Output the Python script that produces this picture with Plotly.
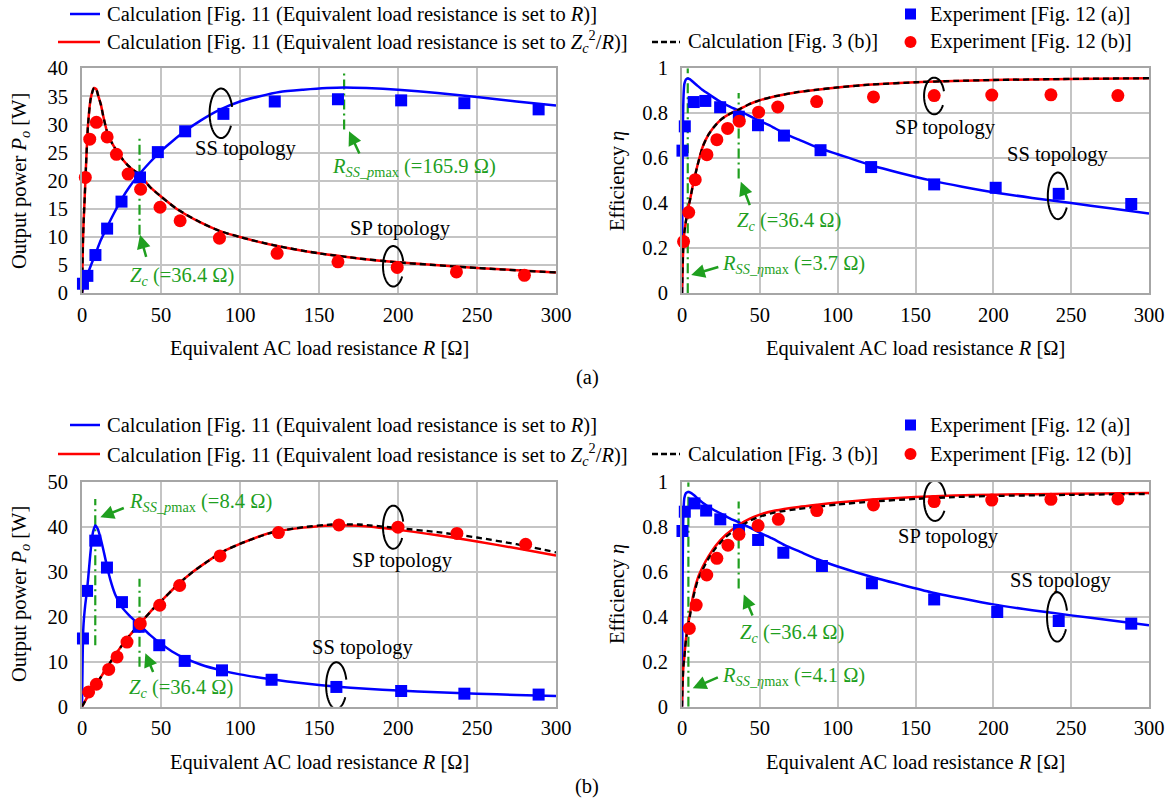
import numpy as np
import plotly.graph_objects as go

FONT = "Liberation Serif, Times New Roman, serif"
FS = 20.5
GREEN = "#1f9f1f"
BLUE = "#0000ff"
RED = "#ff0000"

# ================= DATA =================
# ---- (a) output power ----
pa_ss_calc_R = [0, 1, 2, 3.4, 5, 8.5, 12, 15.9, 20, 25, 30, 36.4, 43, 50, 57, 65, 75, 87, 100, 112, 125, 140, 155, 166, 180, 200, 225, 250, 275, 300]
pa_ss_calc_P = [0, 1.2, 2.2, 3.3, 4.5, 7.0, 9.5, 11.8, 14.1, 16.7, 18.9, 21.2, 23.3, 25.3, 27.0, 28.8, 30.7, 32.6, 34.1, 35.0, 35.8, 36.2, 36.5, 36.6, 36.5, 36.2, 35.6, 34.9, 34.1, 33.4]
pa_sp_calc_R = [0, 0.3, 0.6, 1, 1.7, 2.7, 3.8, 5.5, 7.6, 9, 10.2, 12, 13.3, 16.5, 20, 22.9, 26, 29.2, 32, 36.4, 43, 50, 60, 75, 87, 100, 122, 150, 175, 200, 250, 300]
pa_sp_calc_P = [0, 4.5, 9, 12.5, 17, 23.8, 29.9, 34.6, 36.5, 36.3, 35.2, 33.5, 31.7, 28.1, 26.2, 24.9, 23.7, 22.7, 22.0, 21.1, 18.9, 17.2, 15.0, 12.6, 11.1, 10.0, 8.5, 7.1, 6.2, 5.5, 4.5, 3.7]
pa_fig3_R = pa_sp_calc_R
pa_fig3_P = pa_sp_calc_P
pa_exp_ss_R = [0.6, 3.4, 8.5, 15.9, 25, 36.7, 48, 65.3, 89.5, 122, 162, 202, 242, 289]
pa_exp_ss_P = [1.7, 3.1, 6.8, 11.5, 16.3, 20.6, 25.1, 28.8, 31.9, 34.1, 34.5, 34.3, 33.8, 32.7]
pa_exp_sp_R = [2.1, 4.9, 9.1, 15.9, 21.8, 29.2, 37.1, 49.4, 62.1, 87, 123.5, 162, 199.5, 237, 280]
pa_exp_sp_P = [20.6, 27.4, 30.4, 27.8, 24.7, 21.2, 18.5, 15.3, 12.9, 9.8, 7.1, 5.6, 4.6, 3.8, 3.2]

# ---- (a) efficiency ----
ea_ss_calc_R = [0, 0.3, 0.6, 1, 1.5, 2.5, 3.7, 5, 7, 10, 13.5, 20, 25, 30, 36.4, 43, 50, 58, 66, 76, 87, 100, 122, 140, 160, 180, 200, 225, 250, 275, 300]
ea_ss_calc_E = [0, 0.45, 0.75, 0.88, 0.93, 0.95, 0.955, 0.952, 0.94, 0.922, 0.902, 0.872, 0.85, 0.832, 0.812, 0.79, 0.766, 0.74, 0.71, 0.68, 0.648, 0.618, 0.568, 0.535, 0.502, 0.474, 0.449, 0.424, 0.401, 0.378, 0.355]
ea_sp_calc_R = [0, 0.3, 0.9, 1.5, 2.5, 3.7, 5, 7, 10, 13.5, 17, 20, 25, 30, 36.4, 43, 50, 60, 75, 87, 100, 122, 150, 175, 200, 250, 300]
ea_sp_calc_E = [0, 0.09, 0.22, 0.27, 0.32, 0.37, 0.41, 0.48, 0.57, 0.655, 0.705, 0.735, 0.772, 0.795, 0.816, 0.84, 0.858, 0.876, 0.895, 0.905, 0.915, 0.928, 0.938, 0.944, 0.948, 0.953, 0.956]
ea_fig3_R = ea_sp_calc_R
ea_fig3_E = ea_sp_calc_E
ea_exp_ss_R = [0.3, 1.8, 7.5, 15, 24.5, 36.5, 48.8, 65.5, 89, 121.5, 162, 201.5, 242, 288.6]
ea_exp_ss_E = [0.634, 0.742, 0.85, 0.855, 0.827, 0.785, 0.747, 0.701, 0.636, 0.561, 0.484, 0.469, 0.442, 0.397]
ea_exp_sp_R = [1.0, 4.3, 8.5, 16, 22.4, 29.3, 36.8, 49.2, 61.5, 86.5, 123, 162, 199, 237, 280]
ea_exp_sp_E = [0.23, 0.36, 0.505, 0.616, 0.683, 0.733, 0.765, 0.805, 0.828, 0.852, 0.873, 0.879, 0.881, 0.882, 0.879]

# ---- (b) output power ----
pb_ss_calc_R = [0, 0.3, 0.6, 1, 2, 3.2, 4, 5, 6, 7, 8.4, 10, 12, 14, 16, 18, 21, 25, 30, 36.4, 43, 50, 57, 65, 75, 88, 100, 120, 140, 160, 180, 200, 225, 250, 275, 300]
pb_ss_calc_P = [0, 8, 15, 18.5, 22.5, 26, 29, 33, 36.5, 39, 40.4, 39.6, 37.2, 34.2, 31, 28.2, 25, 22.3, 20.3, 18.2, 16, 14, 12.3, 10.8, 9.4, 8.1, 7.2, 6.1, 5.2, 4.5, 4.0, 3.6, 3.2, 2.9, 2.6, 2.4]
pb_sp_calc_R = [0, 4, 9, 15, 20, 25, 30, 36.4, 45, 50, 60, 70, 80, 90, 100, 120, 140, 158, 175, 200, 225, 250, 275, 300]
pb_sp_calc_P = [0, 2.5, 5.0, 8.3, 11, 13.5, 15.8, 18.4, 21.8, 23.5, 27, 30, 32.5, 34.7, 36.3, 38.8, 39.9, 40.4, 40.3, 39.4, 38.2, 36.8, 35.3, 33.7]
pb_fig3_R = [0, 4, 9, 15, 20, 25, 30, 36.4, 45, 50, 60, 70, 80, 90, 100, 120, 140, 158, 175, 200, 225, 250, 275, 300]
pb_fig3_P = [0, 2.5, 5.0, 8.3, 11, 13.5, 15.8, 18.4, 21.8, 23.5, 27, 30, 32.5, 34.7, 36.3, 38.8, 40.0, 40.6, 40.6, 39.8, 38.9, 37.7, 36.2, 34.4]
pb_exp_ss_R = [0.6, 3.2, 8.4, 15.8, 25.3, 35.9, 48.9, 65, 88.6, 120, 161, 202, 242, 289]
pb_exp_ss_P = [15.2, 25.8, 37, 31, 23.3, 17.8, 13.7, 10.2, 8.1, 6.0, 4.4, 3.5, 2.9, 2.7]
pb_exp_sp_R = [4.2, 9.1, 16.9, 22.2, 28.5, 36.9, 49.2, 61.8, 87.4, 124.3, 162.6, 200, 237.3, 280.8]
pb_exp_sp_P = [3.3, 5.0, 8.3, 11.1, 14.4, 18.5, 22.6, 27, 33.6, 38.8, 40.5, 40, 38.6, 36.2]

# ---- (b) efficiency ----
eb_ss_calc_R = [0, 0.3, 0.6, 1, 1.5, 2.5, 4.1, 6, 8, 10, 13.5, 20, 25, 30, 36.4, 43, 50, 58, 66, 76, 87, 100, 122, 140, 160, 180, 200, 225, 250, 275, 300]
eb_ss_calc_E = [0, 0.45, 0.75, 0.88, 0.93, 0.952, 0.957, 0.952, 0.941, 0.928, 0.908, 0.879, 0.86, 0.842, 0.822, 0.8, 0.775, 0.75, 0.72, 0.69, 0.657, 0.625, 0.578, 0.545, 0.51, 0.482, 0.456, 0.43, 0.407, 0.385, 0.363]
eb_sp_calc_R = [0, 0.3, 0.9, 1.5, 2.5, 3.7, 5, 7, 10, 13.4, 17, 22, 28, 36.4, 43, 50, 60, 75, 87, 100, 122, 150, 175, 200, 250, 300]
eb_sp_calc_E = [0, 0.09, 0.18, 0.223, 0.3, 0.357, 0.41, 0.49, 0.57, 0.624, 0.67, 0.72, 0.765, 0.81, 0.836, 0.856, 0.874, 0.89, 0.9, 0.91, 0.923, 0.934, 0.941, 0.945, 0.949, 0.952]
eb_fig3_R = eb_sp_calc_R
eb_fig3_E = [0, 0.09, 0.18, 0.22, 0.295, 0.35, 0.4, 0.48, 0.56, 0.612, 0.66, 0.71, 0.755, 0.8, 0.827, 0.847, 0.866, 0.881, 0.891, 0.901, 0.914, 0.926, 0.934, 0.939, 0.944, 0.948]
eb_exp_ss_R = [0.3, 1.8, 8, 15.5, 24.6, 36.6, 48.9, 65.1, 89.9, 122, 162, 202.5, 242, 288.6]
eb_exp_ss_E = [0.783, 0.869, 0.906, 0.874, 0.835, 0.788, 0.743, 0.686, 0.627, 0.55, 0.478, 0.422, 0.382, 0.37]
eb_exp_sp_R = [4.7, 9.1, 15.9, 22.4, 29.5, 36.6, 48.9, 61.9, 86.6, 123, 162, 199, 237, 280]
eb_exp_sp_E = [0.349, 0.453, 0.587, 0.661, 0.72, 0.768, 0.807, 0.835, 0.874, 0.899, 0.914, 0.921, 0.924, 0.926]

x_ticks = [0, 50, 100, 150, 200, 250, 300]
legend_labels = [
    "Calculation [Fig. 11 (Equivalent load resistance is set to <i>R</i>)]",
    "Calculation [Fig. 11 (Equivalent load resistance is set to <i>Z<sub>c</sub></i><sup>2</sup>/<i>R</i>)]",
    "Calculation [Fig. 3 (b)]",
    "Experiment [Fig. 12 (a)]",
    "Experiment [Fig. 12 (b)]",
]

# ================= LAYOUT GEOMETRY =================
W, H = 1173, 802
def PX(px):
    return px / W
def PY(py):
    return 1 - py / H

LEFT = [PX(82), PX(556)]
RIGHT = [PX(682), PX(1149)]
TOP = [PY(293.3), PY(68.3)]
BOT = [PY(706.7), PY(482.3)]

fig = go.Figure()

panels = [
    ("x", "y", pa_ss_calc_R, pa_ss_calc_P, pa_sp_calc_R, pa_sp_calc_P, pa_fig3_R, pa_fig3_P,
     pa_exp_ss_R, pa_exp_ss_P, pa_exp_sp_R, pa_exp_sp_P),
    ("x2", "y2", ea_ss_calc_R, ea_ss_calc_E, ea_sp_calc_R, ea_sp_calc_E, ea_fig3_R, ea_fig3_E,
     ea_exp_ss_R, ea_exp_ss_E, ea_exp_sp_R, ea_exp_sp_E),
    ("x3", "y3", pb_ss_calc_R, pb_ss_calc_P, pb_sp_calc_R, pb_sp_calc_P, pb_fig3_R, pb_fig3_P,
     pb_exp_ss_R, pb_exp_ss_P, pb_exp_sp_R, pb_exp_sp_P),
    ("x4", "y4", eb_ss_calc_R, eb_ss_calc_E, eb_sp_calc_R, eb_sp_calc_E, eb_fig3_R, eb_fig3_E,
     eb_exp_ss_R, eb_exp_ss_E, eb_exp_sp_R, eb_exp_sp_E),
]

# green vertical reference lines: (axis, R, y0, y1)
green_vlines = [
    ("x", "y", 165.9, 29.1, 39.7), ("x", "y", 36.4, 10.4, 27.5),
    ("x2", "y2", 3.7, 0.0, 1.0), ("x2", "y2", 36.4, 0.51, 0.89),
    ("x3", "y3", 8.4, 13.7, 46.3), ("x3", "y3", 36.4, 8.9, 28.5),
    ("x4", "y4", 4.1, 0.0, 1.0), ("x4", "y4", 36.4, 0.527, 0.914),
]
for xa, ya, r, y0, y1 in green_vlines:
    fig.add_trace(go.Scatter(x=[r, r], y=[y0, y1], mode="lines", xaxis=xa, yaxis=ya,
                             line=dict(color=GREEN, width=2.2, dash="10px,4px,2px,4px"),
                             hoverinfo="skip", showlegend=False))

for (xa, ya, sR, sV, pR, pV, fR, fV, esR, esV, epR, epV) in panels:
    fig.add_trace(go.Scatter(x=sR, y=sV, mode="lines", xaxis=xa, yaxis=ya,
                             line=dict(color=BLUE, width=2.5, shape="spline", smoothing=0.6), showlegend=False))
    fig.add_trace(go.Scatter(x=pR, y=pV, mode="lines", xaxis=xa, yaxis=ya,
                             line=dict(color=RED, width=2.5, shape="spline", smoothing=0.6), showlegend=False))
    fig.add_trace(go.Scatter(x=fR, y=fV, mode="lines", xaxis=xa, yaxis=ya,
                             line=dict(color="black", width=2.3, dash="6px,4px", shape="spline", smoothing=0.6),
                             showlegend=False))
    fig.add_trace(go.Scatter(x=esR, y=esV, mode="markers", xaxis=xa, yaxis=ya, cliponaxis=False,
                             marker=dict(symbol="square", size=12, color=BLUE), showlegend=False))
    fig.add_trace(go.Scatter(x=epR, y=epV, mode="markers", xaxis=xa, yaxis=ya, cliponaxis=False,
                             marker=dict(symbol="circle", size=13, color=RED), showlegend=False))

axis_common = dict(showgrid=True, gridcolor="#c4c4c4", gridwidth=1.5, showline=True,
                   linecolor="#a6a6a6", linewidth=2, mirror=True, zeroline=False, ticks="",
                   automargin=False,
                   tickfont=dict(size=FS, family=FONT, color="black"))
xcommon = dict(axis_common, range=[0, 300], tickmode="array", tickvals=x_ticks, ticklabelstandoff=2)
fig.update_layout(
    xaxis=dict(xcommon, domain=LEFT, anchor="y"),
    yaxis=dict(axis_common, domain=TOP, anchor="x", range=[0, 40], dtick=5, ticklabelstandoff=8),
    xaxis2=dict(xcommon, domain=RIGHT, anchor="y2"),
    yaxis2=dict(axis_common, domain=TOP, anchor="x2", range=[0, 1], dtick=0.2, ticklabelstandoff=8),
    xaxis3=dict(xcommon, domain=LEFT, anchor="y3"),
    yaxis3=dict(axis_common, domain=BOT, anchor="x3", range=[0, 50], dtick=10, ticklabelstandoff=8),
    xaxis4=dict(xcommon, domain=RIGHT, anchor="y4"),
    yaxis4=dict(axis_common, domain=BOT, anchor="x4", range=[0, 1], dtick=0.2, ticklabelstandoff=8),
)

annotations = []
shapes = []

def text_paper(px, py, text, xanchor="center", angle=0):
    annotations.append(dict(x=PX(px), y=PY(py), xref="paper", yref="paper", text=text,
                            showarrow=False, xanchor=xanchor, yanchor="middle", textangle=angle,
                            borderpad=0, font=dict(family=FONT, size=FS, color="black")))

# axis titles
xtitle = "Equivalent AC load resistance <i>R</i> [Ω]"
text_paper(319, 348, xtitle)
text_paper(915.5, 348, xtitle)
text_paper(319, 762, xtitle)
text_paper(915.5, 762, xtitle)
text_paper(20, 181, "Output power <i>P<sub>o</sub></i> [W]", angle=-90)
text_paper(20, 594, "Output power <i>P<sub>o</sub></i> [W]", angle=-90)
text_paper(617, 181, "Efficiency <i>η</i>", angle=-90)
text_paper(617, 594, "Efficiency <i>η</i>", angle=-90)
text_paper(587, 377, "(a)")
text_paper(587, 786, "(b)")

# manual legends
for (r1, r2) in [(14, 42), (425, 454)]:
    shapes.append(dict(type="line", xref="paper", yref="paper", x0=PX(70), x1=PX(100), y0=PY(r1), y1=PY(r1),
                       line=dict(color=BLUE, width=2.5)))
    text_paper(106, r1, legend_labels[0], xanchor="left")
    shapes.append(dict(type="line", xref="paper", yref="paper", x0=PX(58), x1=PX(100), y0=PY(r2), y1=PY(r2),
                       line=dict(color=RED, width=2.5)))
    text_paper(106, r2, legend_labels[1], xanchor="left")
    shapes.append(dict(type="line", xref="paper", yref="paper", x0=PX(652), x1=PX(680), y0=PY(r2), y1=PY(r2),
                       line=dict(color="black", width=2.5, dash="6px,3px")))
    text_paper(687, r2, legend_labels[2], xanchor="left")
    shapes.append(dict(type="rect", xref="paper", yref="paper", x0=PX(905), x1=PX(916), y0=PY(r1 + 5.5),
                       y1=PY(r1 - 5.5), fillcolor=BLUE, line=dict(width=0)))
    text_paper(929, r1, legend_labels[3], xanchor="left")
    shapes.append(dict(type="circle", xref="paper", yref="paper", x0=PX(904.5), x1=PX(916.5), y0=PY(r2 + 6),
                       y1=PY(r2 - 6), fillcolor=RED, line=dict(width=0)))
    text_paper(929, r2, legend_labels[4], xanchor="left")

# green labels and arrows (axis, text, tx, ty, head_x, head_y, tail_x, tail_y)
green_labels = [
    ("x", "y", "<i>R</i><sub><i>SS_p</i>max</sub> (=165.9 Ω)", 210, 22.3, 169, 28.8, 176, 24.6),
    ("x", "y", "<i>Z<sub>c</sub></i> (=36.4 Ω)", 63, 3.0, 36.7, 10.4, 40.9, 6.2),
    ("x2", "y2", "<i>Z<sub>c</sub></i> (=36.4 Ω)", 69, 0.318, 37.8, 0.496, 43.9, 0.385),
    ("x2", "y2", "<i>R</i><sub><i>SS_η</i>max</sub> (=3.7 Ω)", 71.7, 0.13, 5.9, 0.081, 24.3, 0.119),
    ("x3", "y3", "<i>R</i><sub><i>SS_p</i>max</sub> (=8.4 Ω)", 75.3, 45.6, 11.6, 42.2, 27.4, 44.4),
    ("x3", "y3", "<i>Z<sub>c</sub></i> (=36.4 Ω)", 62.7, 4.1, 40.1, 11.9, 45.4, 7.4),
    ("x4", "y4", "<i>Z<sub>c</sub></i> (=36.4 Ω)", 70.5, 0.327, 39.7, 0.5, 45.7, 0.40),
    ("x4", "y4", "<i>R</i><sub><i>SS_η</i>max</sub> (=4.1 Ω)", 71.5, 0.134, 6.9, 0.082, 24, 0.134),
]
for xa, ya, txt, tx, ty, hx, hy, ax, ay in green_labels:
    annotations.append(dict(x=tx, y=ty, xref=xa, yref=ya, text=txt, showarrow=False,
                            font=dict(family=FONT, size=FS, color=GREEN)))
    annotations.append(dict(x=hx, y=hy, xref=xa, yref=ya, ax=ax, ay=ay, axref=xa, ayref=ya, text="",
                            showarrow=True, arrowhead=2, arrowsize=1.1, arrowwidth=2.5, arrowcolor=GREEN))

# topology labels (axis, text, x, y)
topo_labels = [
    ("x", "y", "SS topology", 104, 25.8), ("x", "y", "SP topology", 201.7, 11.6),
    ("x2", "y2", "SP topology", 169, 0.737), ("x2", "y2", "SS topology", 241.5, 0.616),
    ("x3", "y3", "SP topology", 203, 32.6), ("x3", "y3", "SS topology", 178, 13.2),
    ("x4", "y4", "SP topology", 171, 0.758), ("x4", "y4", "SS topology", 243.7, 0.563),
]
for xa, ya, txt, tx, ty in topo_labels:
    annotations.append(dict(x=tx, y=ty, xref=xa, yref=ya, text=txt, showarrow=False,
                            font=dict(family=FONT, size=FS, color="black")))

# ellipse markers (axis, cx, cy, width, height)
ellipses = [
    ("x", "y", 88, 32.0, 14.5, 8.8), ("x", "y", 197, 4.8, 13, 7.2),
    ("x2", "y2", 162, 0.877, 13, 0.163), ("x2", "y2", 241.5, 0.433, 13, 0.207),
    ("x3", "y3", 197, 40.0, 13, 9.6), ("x3", "y3", 161, 4.7, 13, 10.4),
    ("x4", "y4", 162.5, 0.918, 14, 0.18), ("x4", "y4", 241, 0.40, 13, 0.22),
]
for xa, ya, cx, cy, w, h in ellipses:
    t = np.radians(np.linspace(15, 330, 70))
    xs = cx + w / 2 * np.cos(t)
    ys = cy + h / 2 * np.sin(t)
    path = "M " + " L ".join(f"{a:.3f},{b:.5f}" for a, b in zip(xs, ys))
    shapes.append(dict(type="path", xref=xa, yref=ya, path=path, line=dict(color="black", width=2),
                       layer="above"))

fig.update_layout(
    width=W, height=H, margin=dict(l=0, r=0, t=0, b=0, autoexpand=False),
    paper_bgcolor="white", plot_bgcolor="white",
    font=dict(family=FONT, size=FS, color="black"),
    annotations=annotations, shapes=shapes, showlegend=False,
)

fig.write_html("out.html", config={"displayModeBar": False},
               post_script="document.body.style.margin='0px';")
